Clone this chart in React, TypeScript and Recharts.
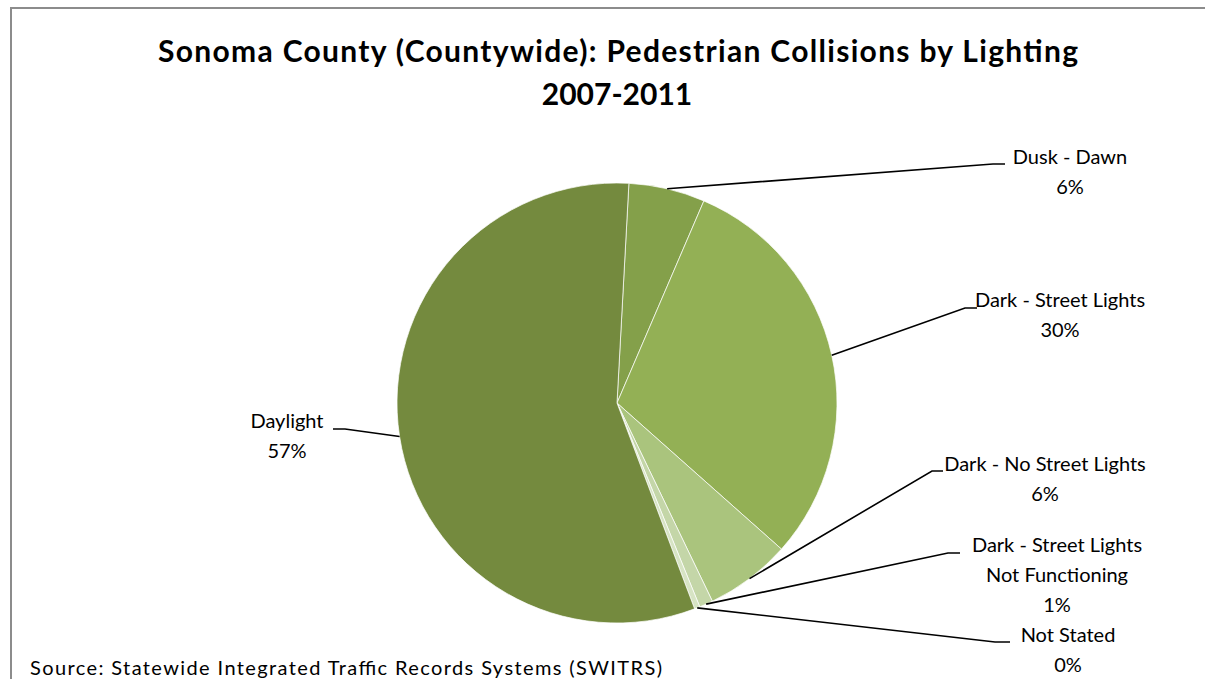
import { Cell, Pie, PieChart } from "recharts";

const categories = [
  "Dusk - Dawn",
  "Dark - Street Lights",
  "Dark - No Street Lights",
  "Dark - Street Lights Not Functioning",
  "Not Stated",
  "Daylight",
];
const shares = [5.6, 30.1, 6.3, 1.0, 0.4, 56.6];
const labelText = [
  ["Dusk - Dawn"],
  ["Dark - Street Lights"],
  ["Dark - No Street Lights"],
  ["Dark - Street Lights", "Not Functioning"],
  ["Not Stated"],
  ["Daylight"],
];

const sliceColors = ["#84a04a", "#93b055", "#aac47d", "#c4d6a8", "#d7e4c4", "#748a3e"];

// where each data label was dragged to (elbow of leader, end of leader, text centre/baseline)
const labelLayout = [
  { elbowX: 993, elbowY: 164, endX: 1005, textX: 1070, textY: 164 },
  { elbowX: 965, elbowY: 308, endX: 977, textX: 1060, textY: 307 },
  { elbowX: 932, elbowY: 471, endX: 943, textX: 1045, textY: 471 },
  { elbowX: 948, elbowY: 553, endX: 960, textX: 1057, textY: 552 },
  { elbowX: 995, elbowY: 642, endX: 1010, textX: 1068, textY: 642 },
  { elbowX: 345, elbowY: 429, endX: 333, textX: 287, textY: 428 },
];

const data = categories.map((name, i) => ({ name, value: shares[i] }));

const RAD = Math.PI / 180;
const labelFont = "Lato, 'Open Sans', sans-serif";

function SliceLabel(props: any) {
  const { cx, cy, midAngle, outerRadius, index, percent } = props;
  const spot = labelLayout[index];
  const sx = cx + outerRadius * Math.cos(-midAngle * RAD);
  const sy = cy + outerRadius * Math.sin(-midAngle * RAD);
  const lines = [...labelText[index], `${Math.round(percent * 100)}%`];
  return (
    <g>
      <polyline
        points={`${sx},${sy} ${spot.elbowX},${spot.elbowY} ${spot.endX},${spot.elbowY}`}
        fill="none"
        stroke="#000"
        strokeWidth={1.6}
      />
      <text
        x={spot.textX}
        y={spot.textY}
        textAnchor="middle"
        fontFamily={labelFont}
        fontSize={20}
        fill="#000"
      >
        {lines.map((t, i) => (
          <tspan key={i} x={spot.textX} dy={i === 0 ? 0 : 30}>
            {t}
          </tspan>
        ))}
      </text>
    </g>
  );
}

export default function App() {
  return (
    <div style={{ position: "absolute", left: 0, top: 0, width: 1205, height: 679, background: "#fff", overflow: "hidden" }}>
      <svg width={1205} height={679} style={{ position: "absolute", left: 0, top: 0 }}>
        <rect x={11} y={8} width={1300} height={800} fill="#fff" stroke="#8c8c8c" strokeWidth={2} />
        <text
          x={618}
          y={62}
          textAnchor="middle"
          fontFamily={labelFont}
          fontWeight={700}
          fontSize={30}
          textLength={920}
          lengthAdjust="spacing"
          fill="#000"
        >
          Sonoma County (Countywide): Pedestrian Collisions by Lighting
        </text>
        <text x={617} y={105} textAnchor="middle" fontFamily={labelFont} fontWeight={700} fontSize={30} fill="#000">
          2007-2011
        </text>
        <text x={30} y={675} fontFamily={labelFont} fontSize={20} textLength={632} lengthAdjust="spacing" fill="#000">
          Source: Statewide Integrated Traffic Records Systems (SWITRS)
        </text>
      </svg>
      <div style={{ position: "absolute", left: 0, top: 0 }}>
        <PieChart width={1205} height={679} margin={{ top: 0, right: 0, bottom: 0, left: 0 }}>
          <Pie
            data={data}
            dataKey="value"
            nameKey="name"
            cx={617}
            cy={403}
            outerRadius={220}
            startAngle={86.9}
            endAngle={86.9 - 360}
            stroke="#ffffff"
            strokeWidth={0.7}
            label={SliceLabel}
            labelLine={false}
            isAnimationActive={false}
          >
            {data.map((d, i) => (
              <Cell key={d.name} fill={sliceColors[i]} />
            ))}
          </Pie>
        </PieChart>
      </div>
    </div>
  );
}
